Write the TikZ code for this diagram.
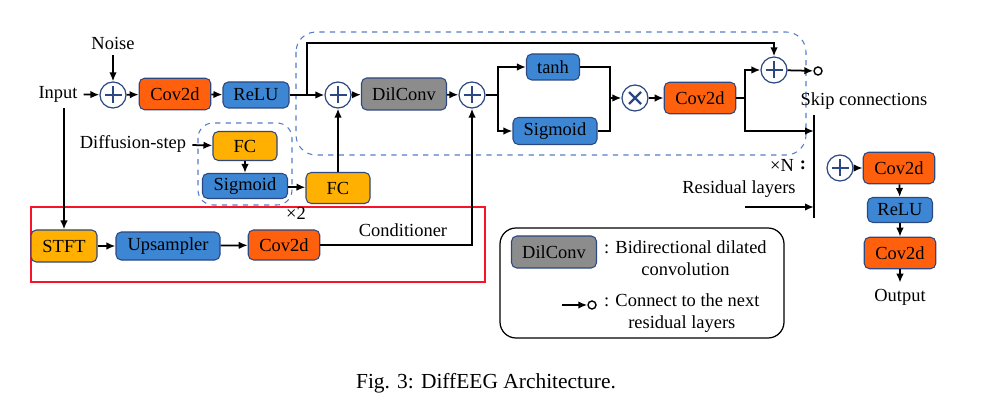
\documentclass[tikz,border=0pt]{standalone}
\usepackage{fontspec}
\setmainfont{Liberation Serif}
\usepackage{xcolor}
\usetikzlibrary{arrows.meta,positioning,calc}
\definecolor{convorange}{RGB}{255,96,14}
\definecolor{actblue}{RGB}{60,134,212}
\definecolor{fcyellow}{RGB}{255,176,0}
\definecolor{dilgray}{RGB}{140,140,140}
\definecolor{boxline}{RGB}{44,72,130}
\definecolor{dashblue}{RGB}{84,124,200}
\definecolor{condred}{RGB}{245,20,40}

\begin{document}
\begin{tikzpicture}[x=0.2mm, y=-0.2mm,
    font=\fontsize{10.5}{12.5}\selectfont,
    box/.style={rectangle, draw=boxline, line width=0.6pt, rounded corners=3pt, inner sep=1pt},
    convbox/.style={box, fill=convorange, minimum width=14.3mm, minimum height=6.3mm},
    actbox/.style={box, fill=actblue, minimum width=13.2mm, minimum height=5.2mm},
    fcbox/.style={box, fill=fcyellow, minimum width=12.8mm, minimum height=5.8mm},
    dilbox/.style={box, fill=dilgray, minimum width=17mm, minimum height=6.4mm},
    opcirc/.style={circle, draw=boxline, fill=white, line width=0.7pt, minimum size=5.2mm, inner sep=0pt},
    plusop/.style={opcirc, path picture={
        \draw[line width=1.3pt] ($(path picture bounding box.center)+(-1.7mm,0)$) -- ($(path picture bounding box.center)+(1.7mm,0)$);
        \draw[line width=1.3pt] ($(path picture bounding box.center)+(0,-1.7mm)$) -- ($(path picture bounding box.center)+(0,1.7mm)$);}},
    timesop/.style={opcirc, path picture={
        \draw[line width=1.3pt] ($(path picture bounding box.center)+(-1.2mm,-1.2mm)$) -- ($(path picture bounding box.center)+(1.2mm,1.2mm)$);
        \draw[line width=1.3pt] ($(path picture bounding box.center)+(-1.2mm,1.2mm)$) -- ($(path picture bounding box.center)+(1.2mm,-1.2mm)$);}},
    endcirc/.style={circle, draw=black, fill=white, line width=0.8pt, minimum size=1.6mm, inner sep=0pt},
    arrow/.style={-{Latex[length=1.8mm,width=1.5mm]}, line width=1pt},
    wire/.style={line width=1pt},
    groupbox/.style={draw=dashblue, dashed, line width=0.6pt, rounded corners=4mm}
]
    \useasboundingbox (0,0) rectangle (1002,408);

    % Group frames
    \draw[groupbox] (296,32) rectangle (806,155);
    \draw[groupbox, rounded corners=3mm] (198,123) rectangle (292,205);
    \draw[draw=condred, line width=1.2pt] (31,207) rectangle (485,282);

    % Input stage
    \node (input) at (58,94) {Input};
    \node (noise) at (113,43) {Noise};
    \node[plusop] (plusA) at (113,95) {};
    \node[convbox] (convA) at (175,94) {Cov2d};
    \node[actbox] (reluA) at (256,95) {ReLU};

    % Residual layer
    \node[plusop] (plusB) at (338,95) {};
    \node[dilbox] (dil) at (404,94) {DilConv};
    \node[plusop] (plusC) at (472,95) {};
    \node[actbox, minimum width=10.6mm] (tanh) at (553,67) {tanh};
    \node[actbox, minimum width=16.8mm, minimum height=5.4mm] (sigB) at (555,131) {Sigmoid};
    \node[timesop] (times) at (635,98) {};
    \node[convbox] (convB) at (700,98) {Cov2d};
    \node[plusop] (plusD) at (774,70) {};
    \node[endcirc] (skipout) at (818,71) {};

    % Diffusion step embedding
    \node (diffstep) at (133,144) {Diffusion-step};
    \node[fcbox] (fcA) at (245,146) {FC};
    \node[actbox, minimum width=17mm, minimum height=5mm] (sigA) at (245,186) {Sigmoid};
    \node[fcbox, minimum height=6.2mm] (fcB) at (338,188) {FC};
    \node at (296,213) {×2};

    % Conditioner
    \node[fcbox, minimum width=13.2mm, minimum height=6.4mm] (stft) at (64,246) {STFT};
    \node[actbox, minimum width=20.8mm, minimum height=5.6mm] (upsamp) at (168,246) {Upsampler};
    \node[convbox, minimum height=6mm] (convC) at (284,245) {Cov2d};
    \node (condlabel) at (403,230) {Conditioner};

    % Output stage
    \node (skiplabel) at (864,101) {Skip connections};
    \coordinate (bartop) at (814,115);
    \coordinate (barbot) at (814,218);
    \node (timesN) at (782,165) {×N};
    \node (dotsN) at (803,165) {\textbf{:}};
    \node (reslabel) at (739,189) {Residual layers};
    \node[plusop] (plusE) at (840,168) {};
    \node[convbox] (convD) at (899,168) {Cov2d};
    \node[actbox, minimum width=13mm, minimum height=5mm] (reluB) at (900,210) {ReLU};
    \node[convbox] (convE) at (900,253) {Cov2d};
    \node (output) at (900,297) {Output};

    % Legend
    \draw[line width=0.7pt, rounded corners=3.2mm] (500,228) rectangle (784,338);
    \node[dilbox] (legdil) at (554,252) {DilConv};
    \node[align=center, anchor=west] (legdiltext) at (598,258) {: Bidirectional dilated\\convolution};
    \coordinate (legstart) at (562,305);
    \node[endcirc] (legcirc) at (592,305) {};
    \node[align=center, anchor=west] (legcirctext) at (598,313) {: Connect to the next\\residual layers};

    % Arrows - input stage
    \draw[arrow] (input) -- (plusA);
    \draw[arrow] (noise) -- (plusA);
    \draw[arrow] (plusA) -- (convA);
    \draw[arrow] (convA) -- (reluA);
    \draw[arrow] (reluA) -- (plusB);
    \draw[arrow] (input.south -| stft) -- (stft);

    % Arrows - residual layer
    \coordinate (splitA) at (307,95);
    \draw[arrow] (splitA) |- (500,43) -| (plusD);
    \draw[arrow] (plusB) -- (dil);
    \draw[arrow] (dil) -- (plusC);
    \coordinate (splitB) at (498,95);
    \draw[wire] (plusC) -- (splitB);
    \draw[arrow] (splitB) |- (tanh);
    \draw[arrow] (splitB) |- (sigB);
    \coordinate (mergeA) at (610,98);
    \draw[wire] (tanh) -| (mergeA);
    \draw[wire] (sigB) -| (mergeA);
    \draw[arrow] (mergeA) -- (times);
    \draw[arrow] (times) -- (convB);
    \coordinate (splitC) at (745,98);
    \coordinate (barskip) at (814,131);
    \draw[wire] (convB) -- (splitC);
    \draw[arrow] (splitC) |- (plusD);
    \draw[arrow] (splitC) |- (barskip);
    \draw[arrow] (plusD) -- (skipout);

    % Arrows - diffusion step
    \draw[arrow] (diffstep) -- (fcA);
    \draw[arrow] (fcA) -- (sigA);
    \draw[arrow] (sigA) -- (fcB);
    \draw[arrow] (fcB) -- (plusB);

    % Arrows - conditioner
    \draw[arrow] (stft) -- (upsamp);
    \draw[arrow] (upsamp) -- (convC);
    \draw[arrow] (convC) -| (plusC);

    % Arrows - output stage
    \draw[line width=1pt] (bartop) -- (barbot);
    \coordinate (resstart) at (745,207);
    \draw[arrow] (resstart) -- (resstart -| bartop);
    \draw[arrow] (plusE) -- (convD);
    \draw[arrow] (convD) -- (reluB);
    \draw[arrow] (reluB) -- (convE);
    \draw[arrow] (convE) -- (output);

    % Legend arrow
    \draw[arrow] (legstart) -- (legcirc);

    % Caption
    \node[font=\fontsize{12.2}{14}\selectfont] (caption) at (486,383) {Fig. 3: DiffEEG Architecture.};
\end{tikzpicture}
\end{document}
